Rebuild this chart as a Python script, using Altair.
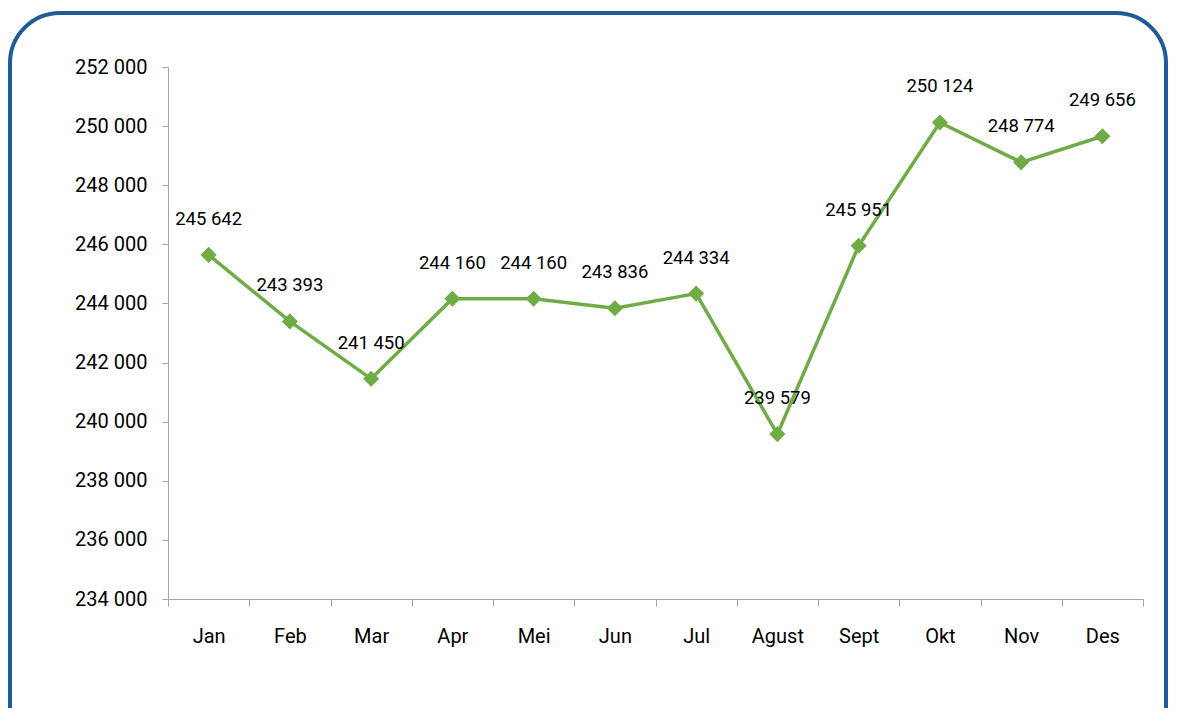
import altair as alt
import pandas as pd

months = ["Jan", "Feb", "Mar", "Apr", "Mei", "Jun", "Jul", "Agust", "Sept", "Okt", "Nov", "Des"]
values = [245642, 243393, 241450, 244160, 244160, 243836, 244334, 239579, 245951, 250124, 248774, 249656]
y_ticks = [234000, 236000, 238000, 240000, 242000, 244000, 246000, 248000, 250000, 252000]

df = pd.DataFrame({
    "month": months,
    "value": values,
    "label": [f"{v:,}".replace(",", " ") for v in values],
})

FONT = "Roboto, sans-serif"
GREEN = "#6FAC46"

x_enc = alt.X("month:N", sort=months, title=None,
              scale=alt.Scale(paddingInner=0, paddingOuter=0),
              axis=alt.Axis(tickBand="extent", labelAngle=0, labelFontSize=20, labelFont=FONT,
                            labelColor="#000000", labelPadding=20, tickSize=7,
                            domainColor="#A6A6A6", tickColor="#A6A6A6", grid=False))
y_enc = alt.Y("value:Q", title=None,
              scale=alt.Scale(domain=[234000, 252000], nice=False, zero=False),
              axis=alt.Axis(values=y_ticks, labelExpr="replace(format(datum.value, ','), ',', ' ')",
                            labelFontSize=20, labelFont=FONT, labelColor="#000000",
                            labelPadding=15, tickSize=6, domainColor="#A6A6A6",
                            tickColor="#A6A6A6", grid=False))

base = alt.Chart(df)

line = base.mark_line(color=GREEN, strokeWidth=3.5).encode(x=x_enc, y=y_enc)
points = base.mark_point(shape="diamond", filled=True, size=260, color=GREEN, opacity=1).encode(
    x=alt.X("month:N", sort=months), y="value:Q")
labels = base.mark_text(font=FONT, fontSize=18.5, color="#000000", dy=-36, baseline="middle").encode(
    x=alt.X("month:N", sort=months), y="value:Q", text="label:N")

border = alt.Chart(pd.DataFrame({"a": [0]})).mark_rect(
    cornerRadius=50, fill="transparent", stroke="#1F5B96", strokeWidth=4
).encode(x=alt.value(-158), x2=alt.value(998), y=alt.value(-54), y2=alt.value(700))

chart = alt.layer(border, line, points, labels).properties(
    width=975, height=532,
    autosize=alt.AutoSizeParams(type="none"),
    padding={"left": 160, "top": 59, "right": 26, "bottom": 109},
).configure_view(stroke=None)

chart.save("out.html", embed_options={"renderer": "svg", "actions": False})
